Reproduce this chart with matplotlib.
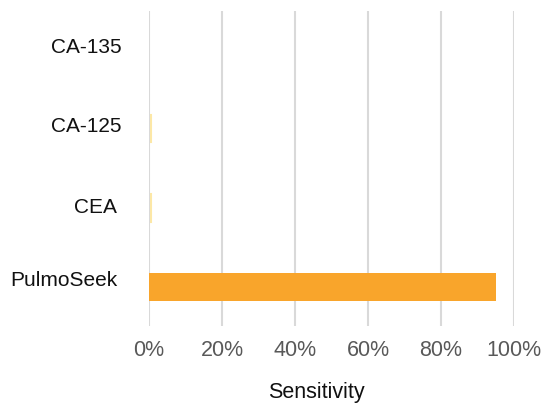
import matplotlib.pyplot as plt
from matplotlib.ticker import FuncFormatter
from matplotlib.transforms import ScaledTranslation

plt.rcParams['font.family'] = ['Liberation Sans', 'DejaVu Sans']

markers = ["PulmoSeek", "CEA", "CA-125", "CA-135"]
sensitivity = [95.0, 0.6, 0.6, 0.0]
bar_colors = ["#f9a52b", "#fde8a6", "#fde8a6", "#fde8a6"]
x_ticks = [0, 20, 40, 60, 80, 100]

fig = plt.figure(figsize=(5.42, 4.08), dpi=100)
ax = fig.add_axes([149 / 542, 82 / 408, (514 - 149) / 542, 315 / 408])

for i, (val, col) in enumerate(zip(sensitivity, bar_colors)):
    if val <= 0:
        continue
    # tiny bars sit under the gridlines and get an outline so they stay visible
    small = val < 5
    ax.barh(i, val, height=0.35, color=col,
            edgecolor=col if small else 'none', linewidth=1.5 if small else 0,
            zorder=1 if small else 3)

ax.set_xlim(0, 100)
ax.set_ylim(-0.49, 3.48)
ax.set_xticks(x_ticks)
ax.xaxis.set_major_formatter(FuncFormatter(lambda v, p: f"{v:.0f}%"))
ax.set_yticks(range(len(markers)))
ax.set_yticklabels(markers)

ax.grid(axis='x', color='#d9d9d9', linewidth=1.5, zorder=2)
ax.set_axisbelow(False)
ax.grid(axis='y', visible=False)
for s in ax.spines.values():
    s.set_visible(False)
ax.tick_params(axis='both', length=0)
ax.tick_params(axis='x', labelsize=15.5, labelcolor='#595959', pad=10)
ax.tick_params(axis='y', labelsize=15, labelcolor='#111111', pad=19.5)
for gl in ax.get_xgridlines():
    gl.set_zorder(2)

def shift(dx, dy):
    # offset in pixels at 100 dpi
    return ScaledTranslation(dx / 100, dy / 100, fig.dpi_scale_trans)

# small per-label nudges (dx, dy) for the category names
nudges = {"PulmoSeek": (-4, 9), "CEA": (-5, 2), "CA-125": (0, 3.5), "CA-135": (0, 4)}
for lbl in ax.get_yticklabels():
    dx, dy = nudges[lbl.get_text()]
    lbl.set_transform(lbl.get_transform() + shift(dx, dy))

ax.set_xlabel("Sensitivity", fontsize=15.5, color='#111111', labelpad=15)
ax.xaxis.label.set_transform(ax.xaxis.label.get_transform() + shift(-15, 0))

fig.savefig("out.png", dpi=100, facecolor='white')
